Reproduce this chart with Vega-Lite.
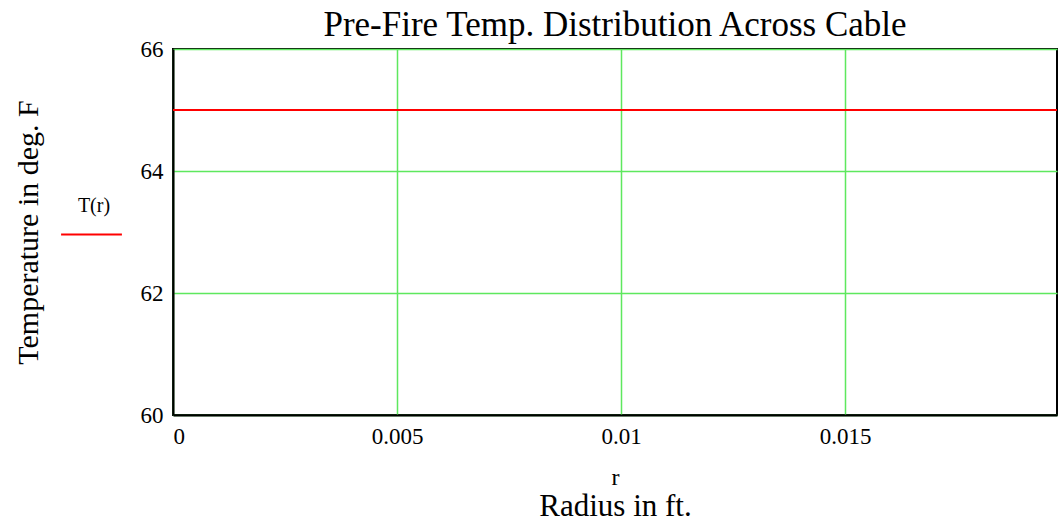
{
  "$schema": "https://vega.github.io/schema/vega-lite/v6.json",
  "width": 884,
  "height": 366,
  "autosize": {"type": "none"},
  "padding": {"left": 173, "top": 49, "right": 2, "bottom": 106},
  "background": "white",
  "config": {
    "font": "Liberation Serif",
    "view": {"stroke": "black", "strokeWidth": 2},
    "axis": {"labelFont": "Liberation Serif", "titleFont": "Liberation Serif", "labelColor": "black", "titleColor": "black", "titleFontWeight": "normal", "gridColor": "#5ee85e", "gridWidth": 1.5, "gridOpacity": 1},
    "legend": {"labelFont": "Liberation Serif", "titleFont": "Liberation Serif"}
  },
  "title": {
    "text": "Pre-Fire Temp. Distribution Across Cable",
    "font": "Liberation Serif",
    "fontSize": 35,
    "fontWeight": "normal",
    "color": "black",
    "anchor": "middle",
    "offset": -5
  },
  "data": {
    "values": [
      {"r": 0, "T": 65, "series": "T(r)"},
      {"r": 0.003, "T": 65, "series": "T(r)"},
      {"r": 0.007, "T": 65, "series": "T(r)"},
      {"r": 0.011, "T": 65, "series": "T(r)"},
      {"r": 0.015, "T": 65, "series": "T(r)"},
      {"r": 0.019, "T": 65, "series": "T(r)"},
      {"r": 0.019732, "T": 65, "series": "T(r)"}
    ]
  },
  "layer": [
    {
      "mark": {"type": "line", "strokeWidth": 2, "clip": true},
      "encoding": {
        "x": {
          "field": "r", "type": "quantitative",
          "scale": {"domain": [0, 0.019732], "nice": false, "zero": false},
          "axis": {
            "values": [0, 0.005, 0.01, 0.015],
            "labelExpr": "datum.value == 0 ? '0' : format(datum.value, '~g')",
            "title": "Radius in ft.",
            "titleFont": "Liberation Serif",
            "titleFontSize": 31,
            "titlePadding": 43,
            "labelFont": "Liberation Serif",
            "labelFontSize": 23,
            "labelPadding": 10,
            "ticks": false,
            "domainColor": "black",
            "domainWidth": 2,
            "grid": true,
            "gridColor": "#5ee85e",
            "gridWidth": 1.5,
            "gridOpacity": 1
          }
        },
        "y": {
          "field": "T", "type": "quantitative",
          "scale": {"domain": [60, 66], "nice": false, "zero": false},
          "axis": {
            "values": [60, 62, 64, 66],
            "format": "d",
            "title": "Temperature in deg. F",
            "titleFont": "Liberation Serif",
            "titleFontSize": 30,
            "titlePadding": 97,
            "labelFont": "Liberation Serif",
            "labelFontSize": 23,
            "labelPadding": 10,
            "ticks": false,
            "domainColor": "black",
            "domainWidth": 2,
            "grid": true,
            "gridColor": "#5ee85e",
            "gridWidth": 1.5,
            "gridOpacity": 1
          }
        },
        "color": {
          "field": "series", "type": "nominal",
          "scale": {"range": ["#ff0000"]},
          "legend": {
            "orient": "none",
            "legendX": -113,
            "legendY": 147,
            "title": "T(r)",
            "titleFont": "Liberation Serif",
            "titleFontSize": 20,
            "titleFontWeight": "normal",
            "titleColor": "black",
            "titleAnchor": "middle",
            "titleAlign": "center",
            "titlePadding": -13,
            "symbolType": "stroke",
            "symbolSize": 3700,
            "symbolStrokeWidth": 2,
            "labelExpr": "''",
            "labelFontSize": 1
          }
        }
      }
    },
    {
      "mark": {"type": "line", "opacity": 0},
      "encoding": {
        "x": {
          "field": "r", "type": "quantitative",
          "scale": {"domain": [0, 0.019732], "nice": false, "zero": false},
          "axis": {
            "orient": "bottom",
            "values": [],
            "title": "r",
            "titleFont": "Liberation Serif",
            "titleFontSize": 24,
            "titlePadding": 50,
            "labels": false,
            "ticks": false,
            "domain": false,
            "grid": false
          }
        }
      }
    }
  ],
  "resolve": {"axis": {"x": "independent"}}
}
